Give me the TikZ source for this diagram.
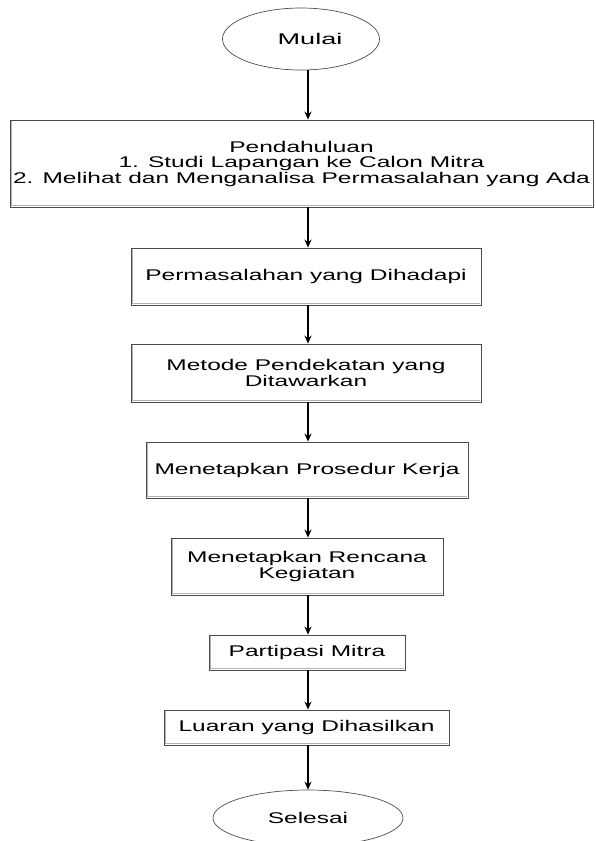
\documentclass[tikz,border=0pt]{standalone}
\usepackage{fontspec}
\setmainfont[FakeStretch=1.58]{Liberation Sans}
\usetikzlibrary{shapes.geometric,arrows.meta}
\begin{document}
\begin{tikzpicture}[x=1pt,y=-1pt,
  txt/.style={font=\fontsize{15.5}{15.5}\selectfont},
  box/.style={txt, draw=black!70, line width=0.8pt, align=center, inner sep=0pt},
  term/.style={txt, ellipse, draw=black!70, line width=0.7pt, inner sep=0pt},
  shade/.style={draw=black!30, line width=0.7pt},
  arr/.style={-{Stealth[length=8pt,width=7pt]}, line width=1.7pt}]
\useasboundingbox (0,0) rectangle (595,841);
\clip (0,0) rectangle (595,841);
\coordinate (ax) at (308,0);
\node[term, minimum width=157pt, minimum height=62pt] (m) at (301,39) {\hspace*{18pt}{\addfontfeatures{FakeStretch=1.75}Mulai}};
\node[box, minimum width=583pt, minimum height=87pt] (b1) at (301.5,163.5)
  {Pendahuluan\\1. Studi Lapangan ke Calon Mitra\\2. Melihat dan Menganalisa Permasalahan yang Ada};
\node[box, minimum width=350pt, minimum height=57pt] (b2) at (306,276.5) {Permasalahan yang Dihadapi};
\node[box, minimum width=350pt, minimum height=58pt] (b3) at (306,373) {Metode Pendekatan yang\\Ditawarkan};
\node[box, minimum width=322pt, minimum height=56pt] (b4) at (307,470) {Menetapkan Prosedur Kerja};
\node[box, minimum width=272pt, minimum height=57pt] (b5) at (307,566.5) {Menetapkan Rencana\\Kegiatan};
\node[box, minimum width=196pt, minimum height=35pt] (b6) at (307,652.5) {Partipasi Mitra};
\node[box, minimum width=285pt, minimum height=35pt] (b7) at (306.5,727.5) {Luaran yang Dihasilkan};
\node[term, minimum width=190pt, minimum height=56pt] (s) at (308,818) {Selesai};
\foreach \n in {b1,b2,b3,b4,b5,b6,b7}
  \draw[shade] ([xshift=2pt,yshift=-1pt]\n.north west) -- ([xshift=2pt,yshift=2pt]\n.south west) -- ([xshift=-1pt,yshift=2pt]\n.south east);
\draw[arr] (m.south -| ax) -- (b1.north -| ax);
\draw[arr] (b1.south -| ax) -- (b2.north -| ax);
\draw[arr] (b2.south -| ax) -- (b3.north -| ax);
\draw[arr] (b3.south -| ax) -- (b4.north -| ax);
\draw[arr] (b4.south -| ax) -- (b5.north -| ax);
\draw[arr] (b5.south -| ax) -- (b6.north -| ax);
\draw[arr] (b6.south -| ax) -- (b7.north -| ax);
\draw[arr] (b7.south -| ax) -- (s.north -| ax);
\end{tikzpicture}
\end{document}
